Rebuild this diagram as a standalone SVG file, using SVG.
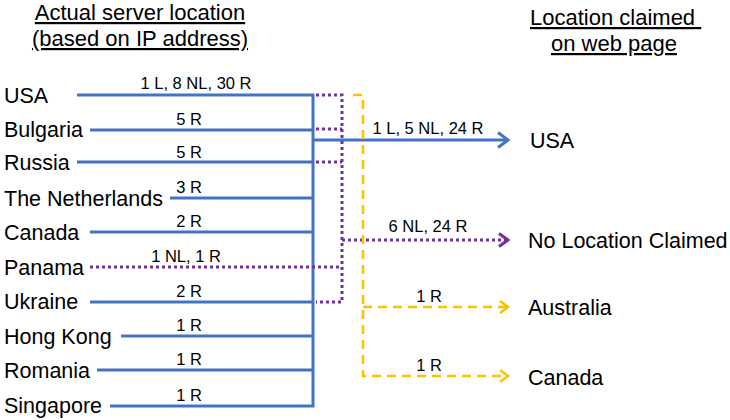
<svg xmlns="http://www.w3.org/2000/svg" width="730" height="420" viewBox="0 0 730 420">
<style>
text{font-family:"Liberation Sans",Arial,sans-serif;fill:#000}
.lbl{font-size:21.5px}
.hdr{font-size:22px;text-decoration:underline}
.sm{font-size:16.5px;text-anchor:middle}
.b{stroke:#4472C4;stroke-width:3;fill:none}
.p{stroke:#7030A0;stroke-width:3;fill:none;stroke-dasharray:3 3}
.y{stroke:#FFC000;stroke-width:2.5;fill:none;stroke-dasharray:9 6}
</style>
<defs>
<marker id="ab" markerWidth="16" markerHeight="18" refX="12" refY="9" orient="auto" markerUnits="userSpaceOnUse"><path d="M2,1.5 L12,9 L2,16.5" fill="none" stroke="#4472C4" stroke-width="3"/></marker>
<marker id="ap" markerWidth="16" markerHeight="18" refX="12" refY="9" orient="auto" markerUnits="userSpaceOnUse"><path d="M3,2.5 L12,9 L3,15.5" fill="none" stroke="#7030A0" stroke-width="3"/></marker>
<marker id="ay" markerWidth="16" markerHeight="18" refX="12" refY="9" orient="auto" markerUnits="userSpaceOnUse"><path d="M4,3 L12,9 L4,15" fill="none" stroke="#FFC000" stroke-width="2.5"/></marker>
</defs>
<g id="headers">
<text class="hdr" x="140" y="20" text-anchor="middle">Actual server location</text>
<text class="hdr" x="140" y="46" text-anchor="middle">(based on IP address)</text>
<text class="hdr" x="530" y="25" xml:space="preserve">Location claimed </text>
<text class="hdr" x="614" y="51" text-anchor="middle">on web page</text>
</g>
<g id="connectors">
<path class="b" d="M77,95 H313 M90,130 H313 M77,162 H313 M170,198 H313 M90,232 H313 M90,302 H313 M121,336 H313 M97,370 H313 M110,406 H313 M313,93.5 V407.5"/>
<path class="b" d="M313,140 H508" marker-end="url(#ab)"/>
<path class="p" d="M316,95 H342 V302 H316 M316,129 H342 M316,162 H342 M90,267 H342"/>
<path class="p" d="M342,240 H508" marker-end="url(#ap)"/>
<path class="y" d="M353,95 H363 V376 H508" marker-end="url(#ay)"/>
<path class="y" d="M363,307 H508" marker-end="url(#ay)"/>
<text class="sm" x="196" y="89">1 L, 8 NL, 30 R</text>
<text class="sm" x="189" y="125">5 R</text>
<text class="sm" x="189" y="158">5 R</text>
<text class="sm" x="189" y="193">3 R</text>
<text class="sm" x="189" y="227">2 R</text>
<text class="sm" x="186" y="262">1 NL, 1 R</text>
<text class="sm" x="189" y="297">2 R</text>
<text class="sm" x="189" y="331">1 R</text>
<text class="sm" x="189" y="365">1 R</text>
<text class="sm" x="189" y="401">1 R</text>
<text class="sm" x="428" y="134">1 L, 5 NL, 24 R</text>
<text class="sm" x="428" y="232">6 NL, 24 R</text>
<text class="sm" x="429" y="302">1 R</text>
<text class="sm" x="429" y="371">1 R</text>
</g>
<g id="src-usa"><text class="lbl" x="4" y="103">USA</text></g>
<g id="src-bulgaria"><text class="lbl" x="4" y="137">Bulgaria</text></g>
<g id="src-russia"><text class="lbl" x="4" y="170">Russia</text></g>
<g id="src-netherlands"><text class="lbl" x="4" y="206">The Netherlands</text></g>
<g id="src-canada"><text class="lbl" x="4" y="240">Canada</text></g>
<g id="src-panama"><text class="lbl" x="4" y="275">Panama</text></g>
<g id="src-ukraine"><text class="lbl" x="4" y="309">Ukraine</text></g>
<g id="src-hongkong"><text class="lbl" x="4" y="344">Hong Kong</text></g>
<g id="src-romania"><text class="lbl" x="4" y="378">Romania</text></g>
<g id="src-singapore"><text class="lbl" x="4" y="413">Singapore</text></g>
<g id="dst-usa"><text class="lbl" x="530" y="148">USA</text></g>
<g id="dst-none"><text class="lbl" x="528" y="248">No Location Claimed</text></g>
<g id="dst-australia"><text class="lbl" x="528" y="315">Australia</text></g>
<g id="dst-canada"><text class="lbl" x="528" y="385">Canada</text></g>
</svg>
